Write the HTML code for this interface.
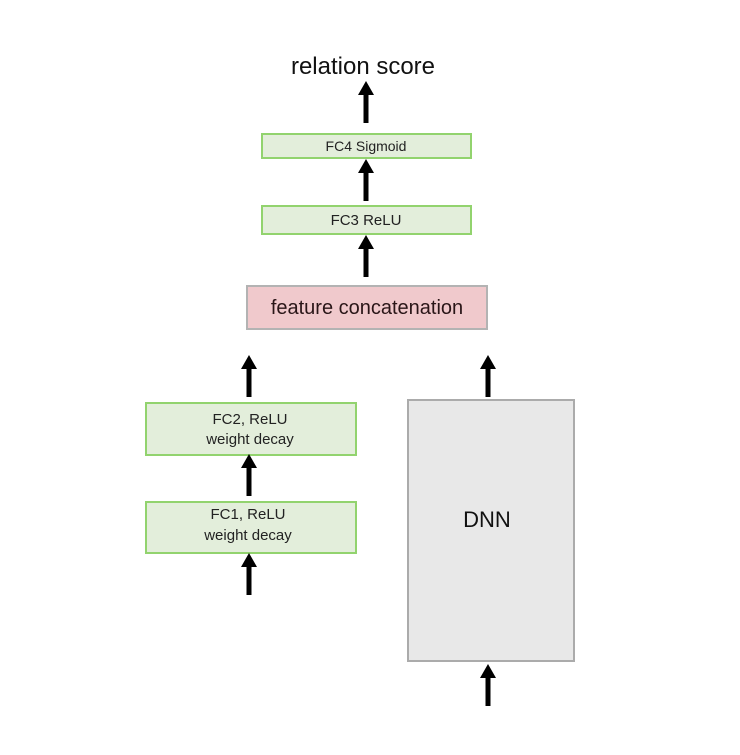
<!DOCTYPE html>
<html><head><style>
html,body{margin:0;padding:0;background:#fff;}
</style></head><body>
<svg width="740" height="750" viewBox="0 0 740 750" xmlns="http://www.w3.org/2000/svg" font-family="Liberation Sans, Arial, sans-serif">
<defs>
<g id="ar"><polygon points="0,0 -8,14 -2.5,14 -2.5,42 2.5,42 2.5,14 8,14" fill="#000"/></g>
</defs>
<text x="363" y="74" font-size="24" text-anchor="middle" fill="#111">relation score</text>
<use href="#ar" x="366" y="81"/>
<rect x="262" y="134" width="209" height="24" fill="#e3eedb" stroke="#92d36e" stroke-width="2"/>
<text x="366" y="151" font-size="14" text-anchor="middle" fill="#222">FC4 Sigmoid</text>
<use href="#ar" x="366" y="159"/>
<rect x="262" y="206" width="209" height="28" fill="#e3eedb" stroke="#92d36e" stroke-width="2"/>
<text x="366" y="225" font-size="15" text-anchor="middle" fill="#222">FC3 ReLU</text>
<use href="#ar" x="366" y="235"/>
<rect x="247" y="286" width="240" height="43" fill="#f0c9cc" stroke="#b3b3b3" stroke-width="2"/>
<text x="367" y="314" font-size="20" text-anchor="middle" fill="#2a1618">feature  concatenation</text>
<use href="#ar" x="249" y="355"/>
<use href="#ar" x="488" y="355"/>
<rect x="146" y="403" width="210" height="52" fill="#e3eedb" stroke="#92d36e" stroke-width="2"/>
<text x="250" y="424" font-size="15" text-anchor="middle" fill="#222">FC2, ReLU</text>
<text x="250" y="444" font-size="15" text-anchor="middle" fill="#222">weight  decay</text>
<use href="#ar" x="249" y="454"/>
<rect x="146" y="502" width="210" height="51" fill="#e3eedb" stroke="#92d36e" stroke-width="2"/>
<text x="248" y="519" font-size="15" text-anchor="middle" fill="#222">FC1, ReLU</text>
<text x="248" y="540" font-size="15" text-anchor="middle" fill="#222">weight  decay</text>
<use href="#ar" x="249" y="553"/>
<rect x="408" y="400" width="166" height="261" fill="#e8e8e8" stroke="#ababab" stroke-width="2"/>
<text x="487" y="527" font-size="22" text-anchor="middle" fill="#111">DNN</text>
<use href="#ar" x="488" y="664"/>
</svg>
</body></html>
